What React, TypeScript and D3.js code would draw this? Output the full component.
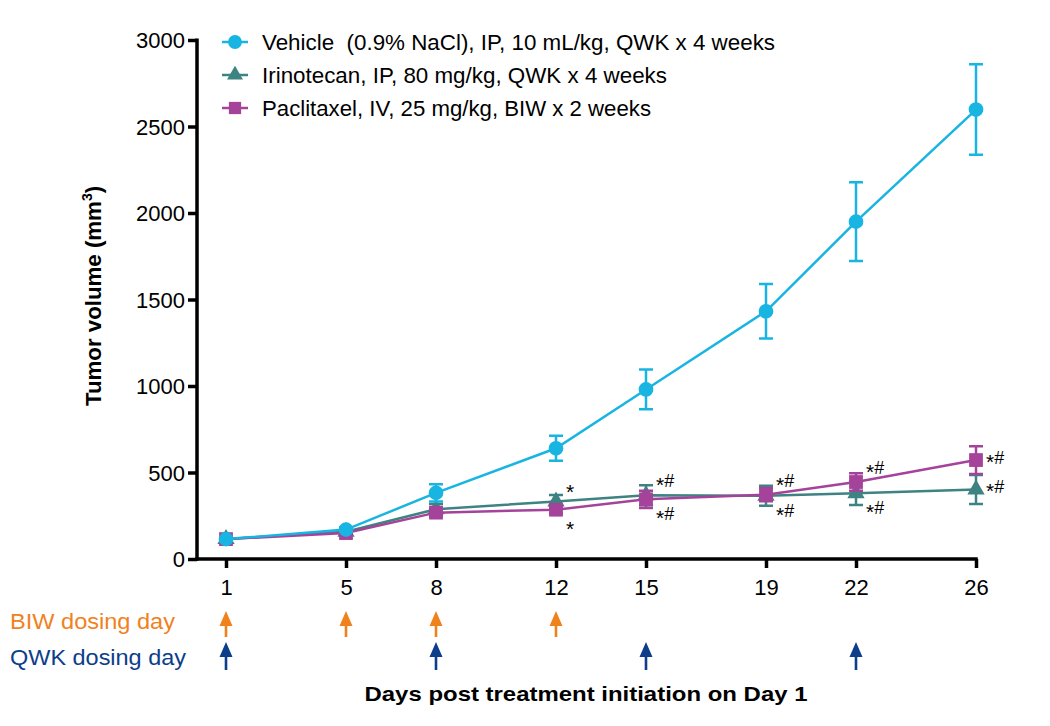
import React, { useEffect, useRef } from 'react'
import * as d3 from 'd3'

const days = [1, 5, 8, 12, 15, 19, 22, 26]
const yTicks = [0, 500, 1000, 1500, 2000, 2500, 3000]

const vehicleMean = [115, 170, 382, 640, 980, 1432, 1950, 2598]
const vehicleErr = [8, 12, 50, 72, 115, 157, 228, 262]
const irinoMean = [115, 158, 288, 332, 368, 366, 380, 402]
const irinoErr = [6, 10, 30, 38, 58, 58, 68, 84]
const pacliMean = [115, 150, 268, 285, 345, 372, 445, 572]
const pacliErr = [6, 10, 22, 20, 50, 38, 50, 80]

// significance marks per day, with side relative to the point
const irinoMarks = ['', '', '', '*', '*#', '*#', '*#', '*#']
const irinoSide = ['', '', '', 'up', 'up', 'down', 'down', 'right']
const pacliMarks = ['', '', '', '*', '*#', '*#', '*#', '*#']
const pacliSide = ['', '', '', 'down', 'down', 'up', 'up', 'right']

const biwDays = [1, 5, 8, 12]
const qwkDays = [1, 8, 15, 22]

const legendLabels = [
  'Vehicle  (0.9% NaCl), IP, 10 mL/kg, QWK x 4 weeks',
  'Irinotecan, IP, 80 mg/kg, QWK x 4 weeks',
  'Paclitaxel, IV, 25 mg/kg, BIW x 2 weeks',
]
const legendWidths = [513, 405, 389]

const COLORS = ['#18b4e2', '#3d8381', '#a5429a']
const ORANGE = '#f0821e'
const NAVY = '#0c3e8a'
const FONT = 'Arial, "Liberation Sans", sans-serif'

export default function App() {
  const svgRef = useRef<SVGSVGElement>(null)

  useEffect(() => {
    if (!svgRef.current) return
    const svg = d3.select(svgRef.current)
    svg.selectAll('*').remove()

    const x = d3.scaleLinear().domain([1, 26]).range([226, 976])
    const y = d3.scaleLinear().domain([0, 3000]).range([559, 40])
    const axisX = 197

    // y axis
    const yAxis = svg
      .append('g')
      .attr('transform', `translate(${axisX},0)`)
      .call(
        d3.axisLeft(y).tickValues(yTicks).tickFormat(d3.format('d')).tickSize(9).tickSizeOuter(0).tickPadding(3)
      )
    yAxis.select('.domain').remove()
    yAxis.selectAll('.tick line').attr('stroke', '#000').attr('stroke-width', 3.5)
    yAxis
      .selectAll('.tick text')
      .attr('font-size', 22)
      .attr('font-family', FONT)
      .attr('fill', '#000')
      .attr('dy', '0.36em')

    // x axis
    const xAxis = svg
      .append('g')
      .attr('transform', `translate(0,${y(0)})`)
      .call(d3.axisBottom(x).tickValues(days).tickSize(9).tickSizeOuter(0).tickPadding(11))
    xAxis.select('.domain').remove()
    xAxis.selectAll('.tick line').attr('stroke', '#000').attr('stroke-width', 3.5)
    xAxis
      .selectAll('.tick text')
      .attr('font-size', 22)
      .attr('font-family', FONT)
      .attr('fill', '#000')

    svg
      .append('line')
      .attr('x1', axisX)
      .attr('x2', axisX)
      .attr('y1', y(3000) - 1.5)
      .attr('y2', y(0) + 1.75)
      .attr('stroke', '#000')
      .attr('stroke-width', 3.5)
    svg
      .append('line')
      .attr('x1', axisX - 1.75)
      .attr('x2', x(26) + 1.75)
      .attr('y1', y(0))
      .attr('y2', y(0))
      .attr('stroke', '#000')
      .attr('stroke-width', 3.5)

    // titles
    svg
      .append('text')
      .attr('transform', `translate(101,296) rotate(-90)`)
      .attr('text-anchor', 'middle')
      .attr('font-family', FONT)
      .attr('font-weight', 'bold')
      .attr('font-size', 22)
      .call((t) => {
        t.append('tspan').attr('textLength', 205).attr('lengthAdjust', 'spacingAndGlyphs').text('Tumor volume (mm')
        t.append('tspan').attr('font-size', 14).attr('dy', -9).text('3')
        t.append('tspan').attr('dy', 9).text(')')
      })

    svg
      .append('text')
      .attr('x', 586)
      .attr('y', 701)
      .attr('text-anchor', 'middle')
      .attr('font-family', FONT)
      .attr('font-weight', 'bold')
      .attr('font-size', 21)
      .attr('textLength', 443)
      .attr('lengthAdjust', 'spacingAndGlyphs')
      .text('Days post treatment initiation on Day 1')

    // series
    const series = [
      { mean: irinoMean, err: irinoErr, color: COLORS[1], shape: d3.symbolTriangle, size: 130, marks: irinoMarks, side: irinoSide },
      { mean: pacliMean, err: pacliErr, color: COLORS[2], shape: d3.symbolSquare, size: 190, marks: pacliMarks, side: pacliSide },
      { mean: vehicleMean, err: vehicleErr, color: COLORS[0], shape: d3.symbolCircle, size: 170, marks: [] as string[], side: [] as string[] },
    ]

    const line = d3
      .line<number>()
      .x((_, i) => x(days[i]))
      .y((d) => y(d))

    series.forEach((s) => {
      const g = svg.append('g')
      g.selectAll('.err')
        .data(s.mean)
        .join('path')
        .attr('d', (d, i) => {
          const cx = x(days[i])
          const t = y(d + s.err[i])
          const b = y(d - s.err[i])
          return `M${cx},${t}V${b}M${cx - 7},${t}H${cx + 7}M${cx - 7},${b}H${cx + 7}`
        })
        .attr('stroke', s.color)
        .attr('stroke-width', 2.5)
        .attr('fill', 'none')

      g.append('path')
        .datum(s.mean)
        .attr('d', line)
        .attr('fill', 'none')
        .attr('stroke', s.color)
        .attr('stroke-width', 2.5)

      g.selectAll('.pt')
        .data(s.mean)
        .join('path')
        .attr('transform', (d, i) => `translate(${x(days[i])},${y(d)})`)
        .attr('d', d3.symbol(s.shape, s.size)())
        .attr('fill', s.color)
    })

    // significance marks
    series.slice(0, 2).forEach((s) => {
      s.marks.forEach((m, i) => {
        if (!m) return
        const cx = x(days[i])
        const cy = y(s.mean[i])
        let dx = 10
        let dy = 0
        if (s.side[i] === 'up') dy = -14
        if (s.side[i] === 'down') dy = 15
        if (s.side[i] === 'right') { dx = 10; dy = -2 }
        const t = svg
          .append('text')
          .attr('x', cx + dx)
          .attr('y', cy + dy + 11)
          .attr('font-family', FONT)
          .attr('font-size', 21)
          .attr('fill', '#000')
        t.append('tspan').text('*')
        if (m.includes('#')) t.append('tspan').attr('dy', -5).attr('font-size', 18).text('#')
      })
    })

    // legend
    const legend = svg.append('g').attr('transform', 'translate(222,42)')
    const shapes = [d3.symbolCircle, d3.symbolTriangle, d3.symbolSquare]
    const sizes = [150, 110, 150]
    legendLabels.forEach((label, i) => {
      const row = legend.append('g').attr('transform', `translate(0,${i * 33})`)
      row.append('line').attr('x1', 0).attr('x2', 26).attr('stroke', COLORS[i]).attr('stroke-width', 2.5)
      row.append('path').attr('transform', 'translate(13,0)').attr('d', d3.symbol(shapes[i], sizes[i])()).attr('fill', COLORS[i])
      row
        .append('text')
        .attr('x', 40)
        .attr('dy', '0.36em')
        .attr('font-family', FONT)
        .attr('font-size', 22)
        .attr('xml:space', 'preserve')
        .attr('textLength', legendWidths[i])
        .attr('lengthAdjust', 'spacingAndGlyphs')
        .text(label)
    })

    // dosing arrows
    const arrow = (cx: number, top: number, bottom: number) =>
      `M${cx},${top}L${cx + 6.5},${top + 15}H${cx + 1.3}V${bottom}H${cx - 1.3}V${top + 15}H${cx - 6.5}Z`

    svg
      .selectAll('.biw')
      .data(biwDays)
      .join('path')
      .attr('d', (d) => arrow(x(d), 611, 637))
      .attr('fill', ORANGE)
    svg
      .selectAll('.qwk')
      .data(qwkDays)
      .join('path')
      .attr('d', (d) => arrow(x(d), 642, 670))
      .attr('fill', NAVY)

    svg
      .append('text')
      .attr('x', 10)
      .attr('y', 629)
      .attr('font-family', FONT)
      .attr('font-size', 22)
      .attr('fill', ORANGE)
      .attr('textLength', 165)
      .attr('lengthAdjust', 'spacingAndGlyphs')
      .text('BIW dosing day')
    svg
      .append('text')
      .attr('x', 10)
      .attr('y', 665)
      .attr('font-family', FONT)
      .attr('font-size', 22)
      .attr('fill', NAVY)
      .attr('textLength', 176)
      .attr('lengthAdjust', 'spacingAndGlyphs')
      .text('QWK dosing day')
  }, [])

  return (
    <svg
      ref={svgRef}
      width={1050}
      height={726}
      style={{ position: 'absolute', left: 0, top: 0, background: '#fff' }}
    />
  )
}
